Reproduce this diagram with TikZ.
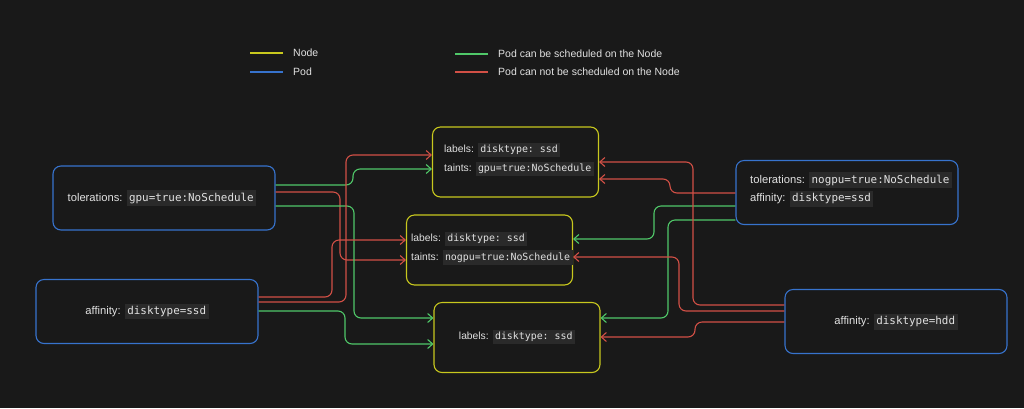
\documentclass[tikz,border=0pt]{standalone}
\usepackage{fontspec}
\setmainfont{Liberation Sans}
\setmonofont{DejaVu Sans Mono}
\usetikzlibrary{arrows.meta}
\definecolor{bg}{RGB}{25,25,25}
\definecolor{nodey}{RGB}{200,200,30}
\definecolor{podb}{RGB}{55,115,205}
\definecolor{okg}{RGB}{80,200,105}
\definecolor{nor}{RGB}{210,80,70}
\definecolor{txtc}{RGB}{225,225,225}
\definecolor{codebg}{RGB}{42,42,42}
\newcommand\cd[1]{{\setlength\fboxsep{2.5pt}\colorbox{codebg}{\fontsize{10.9}{13}\selectfont\ttfamily\vphantom{Ag}#1}}}
\newcommand\cdn[1]{{\setlength\fboxsep{2.5pt}\colorbox{codebg}{\fontsize{9.9}{12}\selectfont\ttfamily\vphantom{Ag}#1}}}
\tikzset{
  podbox/.style={draw=podb, line width=1.1pt, rounded corners=8pt, minimum width=222pt, minimum height=64pt, inner sep=0pt},
  nodebox/.style={draw=nodey, line width=1.1pt, rounded corners=8pt, minimum width=166pt, minimum height=70pt, inner sep=0pt},
  txt/.style={text=txtc, font=\fontsize{11.2}{13}\selectfont, inner sep=0pt},
  txtn/.style={text=txtc, font=\fontsize{10.3}{12}\selectfont, inner sep=0pt},
  legtxt/.style={text=txtc, font=\fontsize{10.5}{12}\selectfont, inner sep=0pt, anchor=west},
  legline/.style={line width=1.1pt},
  con/.style={line width=1.1pt, rounded corners=7pt, -{Straight Barb[length=5pt,width=9pt]}},
}
\begin{document}
\begin{tikzpicture}[x=1pt,y=-1pt]
\fill[bg] (0,0) rectangle (1024,408);
\useasboundingbox (0,0) rectangle (1024,408);

% legend
\coordinate (ly1) at (250,53); \coordinate (ly2) at (283,53);
\coordinate (lb1) at (250,72); \coordinate (lb2) at (283,72);
\coordinate (lg1) at (455,54); \coordinate (lg2) at (488,54);
\coordinate (lr1) at (455,72); \coordinate (lr2) at (488,72);
\draw[legline, nodey] (ly1) -- (ly2);
\draw[legline, podb] (lb1) -- (lb2);
\draw[legline, okg] (lg1) -- (lg2);
\draw[legline, nor] (lr1) -- (lr2);
\node[legtxt] (legN) at (293,53) {Node};
\node[legtxt] (legP) at (293,72) {Pod};
\node[legtxt] (legG) at (498,54) {Pod can be scheduled on the Node};
\node[legtxt] (legR) at (498,72) {Pod can not be scheduled on the Node};

% pods
\node[podbox] (P1) at (164,198) {};
\node[txt] (P1t) at (162,198) {tolerations: \cd{gpu=true:NoSchedule}};
\node[podbox] (P2) at (147,311.5) {};
\node[txt] (P2t) at (147,311.5) {affinity: \cd{disktype=ssd}};
\node[podbox] (P3) at (847,192.5) {};
\node[txt, anchor=west] (P3a) at (750,180) {tolerations: \cd{nogpu=true:NoSchedule}};
\node[txt, anchor=west] (P3b) at (750,199) {affinity: \cd{disktype=ssd}};
\node[podbox] (P4) at (896,321.5) {};
\node[txt] (P4t) at (896,322) {affinity: \cd{disktype=hdd}};

% nodes
\node[nodebox] (N1) at (515.5,162) {};
\node[txtn, anchor=west] (N1a) at (444,150) {labels: \cdn{disktype: ssd}};
\node[txtn, anchor=west] (N1b) at (444,169) {taints: \cdn{gpu=true:NoSchedule}};
\node[nodebox] (N2) at (489.5,250) {};
\node[txtn, anchor=west] (N2a) at (411,239) {labels: \cdn{disktype: ssd}};
\node[txtn, anchor=west] (N2b) at (411,257.5) {taints: \cdn{nogpu=true:NoSchedule}};
\node[nodebox] (N3) at (517,337.5) {};
\node[txtn] (N3t) at (517,337) {labels: \cdn{disktype: ssd}};

% connectors from P1
\draw[con, okg] (P1.east |- 0,185) -| (353,169) -- (N1.west |- 0,169);
\draw[con, nor] (P1.east |- 0,192) -| (340,260) -- (N2.west |- 0,260);
\draw[con, okg] (P1.east |- 0,206) -| (354,318) -- (N3.west |- 0,318);
% from P2
\draw[con, nor] (P2.east |- 0,297) -| (332,240) -- (N2.west |- 0,240);
\draw[con, nor] (P2.east |- 0,302) -| (346,155) -- (N1.west |- 0,155);
\draw[con, okg] (P2.east |- 0,311) -| (345,344) -- (N3.west |- 0,344);
% from P3
\draw[con, nor] (P3.west |- 0,193) -| (670,179) -- (N1.east |- 0,179);
\draw[con, okg] (P3.west |- 0,206) -| (654,239) -- (N2.east |- 0,239);
\draw[con, okg] (P3.west |- 0,220) -| (668,318) -- (N3.east |- 0,318);
% from P4
\draw[con, nor] (P4.west |- 0,305) -| (693,162) -- (N1.east |- 0,162);
\draw[con, nor] (P4.west |- 0,311) -| (679,257) -- (N2.east |- 0,257);
\draw[con, nor] (P4.west |- 0,322) -| (695,337) -- (N3.east |- 0,337);
\end{tikzpicture}
\end{document}
